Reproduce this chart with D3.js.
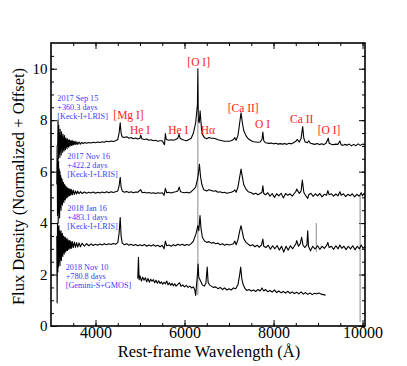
<!DOCTYPE html>
<html>
<head>
<meta charset="utf-8">
<script src="https://cdn.jsdelivr.net/npm/d3@7"></script>
<style>
  body { margin: 0; background: #fff; }
  text { font-family: "Liberation Serif", "Times New Roman", serif; }
</style>
</head>
<body>
<div id="spec_chart"></div>
<script>
// spectra: [rest wavelength (A), normalized flux + offset]
const sep15Spec = [
  [3150,7.0],[3158,8.0],[3166,6.5],[3174,7.8],[3182,6.7],[3190,7.5],[3198,6.55],[3206,7.65],[3214,6.8],[3222,7.4],
  [3230,6.65],[3238,7.55],[3246,6.9],[3254,7.35],[3262,6.75],[3270,7.45],[3278,6.85],[3286,7.3],[3294,6.8],[3302,7.4],
  [3310,6.92],[3318,7.28],[3326,6.85],[3334,7.32],[3342,6.95],[3350,7.25],[3360,6.9],[3370,7.28],[3380,6.98],[3390,7.22],
  [3400,6.95],[3415,7.24],[3430,7.0],[3445,7.2],[3460,7.02],[3475,7.22],[3490,7.03],[3505,7.18],[3520,7.05],[3540,7.19],
  [3560,7.05],[3580,7.16],[3600,7.06],[3630,7.15],[3660,7.07],[3690,7.14],[3720,7.09],[3760,7.13],[3800,7.1],[3850,7.13],
  [3900,7.11],[3950,7.14],[4000,7.12],[4050,7.15],[4100,7.13],[4150,7.16],[4200,7.14],[4250,7.18],[4300,7.16],[4350,7.19],
  [4400,7.17],[4450,7.2],[4500,7.25],[4530,7.5],[4555,7.9],[4575,7.5],[4600,7.35],[4650,7.33],[4700,7.36],[4750,7.3],
  [4800,7.33],[4850,7.28],[4900,7.31],[4950,7.27],[5000,7.3],[5015,7.42],[5040,7.28],[5100,7.25],[5150,7.27],[5200,7.22],
  [5250,7.24],[5300,7.2],[5350,7.22],[5400,7.18],[5450,7.2],[5500,7.2],[5530,7.1],[5550,7.05],[5570,7.48],[5590,7.25],
  [5650,7.22],[5700,7.24],[5750,7.22],[5800,7.25],[5850,7.3],[5876,7.45],[5900,7.3],[5950,7.25],[6000,7.22],[6050,7.2],
  [6100,7.25],[6150,7.3],[6200,7.5],[6250,7.9],[6290,8.6],[6300,10.0],[6310,8.0],[6330,7.9],[6350,8.36],[6380,7.7],
  [6400,7.45],[6450,7.32],[6500,7.28],[6550,7.33],[6600,7.3],[6650,7.3],[6700,7.28],[6750,7.24],[6800,7.22],[6850,7.2],
  [6900,7.18],[6950,7.18],[7000,7.18],[7050,7.2],[7100,7.25],[7130,7.32],[7160,7.22],[7200,7.4],[7240,7.9],[7270,8.29],
  [7300,7.9],[7330,7.6],[7380,7.4],[7430,7.28],[7500,7.2],[7550,7.16],[7600,7.15],[7650,7.14],[7700,7.15],[7740,7.25],
  [7760,7.54],[7780,7.2],[7820,7.12],[7900,7.1],[7950,7.11],[8000,7.08],[8050,7.1],[8100,7.07],[8150,7.09],[8200,7.07],
  [8250,7.09],[8300,7.06],[8350,7.1],[8400,7.08],[8450,7.12],[8500,7.18],[8535,7.25],[8580,7.15],[8620,7.3],[8655,7.75],
  [8680,7.3],[8710,7.15],[8760,7.12],[8790,7.2],[8830,7.1],[8880,7.08],[8930,7.06],[8980,7.09],[9030,7.05],[9080,7.08],
  [9130,7.05],[9180,7.1],[9230,7.3],[9250,7.1],[9300,7.06],[9350,7.05],[9400,7.07],[9450,7.06],[9490,7.19],[9520,7.05],
  [9560,7.02],[9600,7.06],[9650,7.03],[9700,7.07],[9750,7.0],[9800,7.06],[9850,7.01],[9900,7.08],[9950,7.02],[10000,7.07],
  [10055,7.05]
];

const nov16Spec = [
  [3130,5.5],[3138,7.0],[3146,4.3],[3154,6.5],[3162,4.0],[3170,6.4],[3178,4.4],[3186,6.1],[3194,4.2],[3202,6.0],
  [3210,4.6],[3218,5.85],[3226,4.5],[3234,5.75],[3242,4.75],[3250,5.7],[3258,4.7],[3266,5.6],[3274,4.85],[3282,5.58],
  [3290,4.8],[3298,5.5],[3306,4.92],[3314,5.48],[3322,4.9],[3330,5.42],[3340,5.0],[3350,5.4],[3360,4.98],[3370,5.36],
  [3385,5.04],[3400,5.35],[3415,5.06],[3430,5.32],[3445,5.08],[3460,5.3],[3480,5.1],[3500,5.28],[3525,5.11],[3550,5.25],
  [3575,5.13],[3600,5.24],[3630,5.14],[3660,5.22],[3700,5.15],[3750,5.21],[3800,5.16],[3850,5.2],[3900,5.17],[3950,5.21],
  [4000,5.16],[4050,5.2],[4100,5.17],[4150,5.21],[4200,5.18],[4250,5.22],[4300,5.18],[4350,5.22],[4400,5.19],[4450,5.22],
  [4500,5.25],[4530,5.45],[4555,5.78],[4575,5.4],[4600,5.25],[4650,5.2],[4700,5.23],[4750,5.19],[4800,5.22],[4850,5.18],
  [4900,5.21],[4950,5.2],[5015,5.3],[5050,5.18],[5100,5.2],[5150,5.17],[5200,5.19],[5250,5.16],[5300,5.18],[5350,5.15],
  [5400,5.18],[5450,5.16],[5500,5.18],[5540,5.08],[5570,5.35],[5600,5.18],[5650,5.2],[5700,5.17],[5750,5.2],[5800,5.22],
  [5850,5.25],[5880,5.4],[5910,5.22],[5950,5.2],[6000,5.18],[6050,5.2],[6100,5.17],[6150,5.22],[6200,5.3],[6250,5.4],
  [6290,5.7],[6310,5.9],[6335,6.29],[6360,5.8],[6390,5.5],[6430,5.3],[6500,5.25],[6550,5.3],[6600,5.27],[6650,5.24],
  [6700,5.26],[6750,5.2],[6800,5.22],[6850,5.18],[6900,5.2],[6950,5.16],[7000,5.18],[7050,5.2],[7100,5.24],[7130,5.29],
  [7160,5.2],[7200,5.4],[7240,5.8],[7270,6.1],[7300,5.8],[7330,5.5],[7380,5.32],[7430,5.22],[7500,5.18],[7550,5.12],
  [7600,5.16],[7650,5.1],[7700,5.15],[7740,5.2],[7760,5.45],[7780,5.15],[7820,5.1],[7870,5.18],[7920,5.05],[7970,5.15],
  [8020,5.0],[8070,5.14],[8120,5.06],[8170,5.16],[8220,4.98],[8270,5.15],[8320,5.08],[8370,5.14],[8420,5.05],[8470,5.16],
  [8500,5.22],[8520,5.32],[8580,5.15],[8620,5.25],[8647,5.67],[8680,5.2],[8710,5.1],[8768,4.96],[8790,5.1],[8840,5.16],
  [8890,5.04],[8940,5.14],[8990,5.06],[9040,5.15],[9090,5.02],[9140,5.12],[9190,5.08],[9220,5.26],[9250,5.1],[9300,5.14],
  [9350,5.05],[9400,5.13],[9450,5.06],[9490,5.22],[9520,5.08],[9570,5.14],[9620,5.03],[9670,5.12],[9720,5.06],[9770,5.14],
  [9820,5.02],[9870,5.12],[9920,5.05],[9945,5.1],[9970,5.18],[10000,5.06],[10030,5.15],[10055,5.1]
];

const jan16Spec = [
  [3130,3.5],[3138,0.9],[3146,4.0],[3154,2.1],[3162,3.85],[3170,2.3],[3178,3.9],[3186,2.5],[3194,3.7],[3202,2.35],
  [3210,3.65],[3218,2.6],[3226,3.7],[3234,2.55],[3242,3.55],[3250,2.75],[3258,3.6],[3266,2.7],[3274,3.5],[3282,2.85],
  [3290,3.48],[3298,2.8],[3306,3.42],[3314,2.9],[3322,3.45],[3330,2.88],[3340,3.38],[3350,2.95],[3360,3.4],[3370,2.94],
  [3385,3.34],[3400,2.98],[3415,3.32],[3430,3.0],[3445,3.3],[3460,3.02],[3480,3.28],[3500,3.04],[3525,3.26],[3550,3.06],
  [3575,3.24],[3600,3.07],[3630,3.23],[3660,3.08],[3700,3.22],[3750,3.1],[3800,3.2],[3850,3.12],[3900,3.19],[3950,3.13],
  [4000,3.18],[4050,3.14],[4100,3.19],[4150,3.15],[4200,3.2],[4250,3.16],[4300,3.2],[4350,3.17],[4400,3.21],[4450,3.18],
  [4500,3.24],[4530,3.6],[4555,4.22],[4575,3.5],[4600,3.22],[4650,3.16],[4700,3.2],[4750,3.14],[4800,3.18],[4850,3.13],
  [4900,3.17],[4950,3.12],[5000,3.16],[5050,3.12],[5100,3.17],[5150,3.1],[5200,3.15],[5250,3.11],[5300,3.16],[5350,3.1],
  [5400,3.14],[5450,3.08],[5500,3.14],[5540,3.0],[5570,3.3],[5600,3.12],[5650,3.15],[5700,3.1],[5750,3.16],[5800,3.12],
  [5850,3.18],[5900,3.14],[5950,3.18],[6000,3.13],[6050,3.17],[6100,3.14],[6150,3.2],[6200,3.3],[6260,3.6],[6300,3.9],
  [6320,3.7],[6348,4.29],[6370,3.8],[6400,3.45],[6450,3.3],[6500,3.25],[6550,3.28],[6600,3.22],[6650,3.25],[6700,3.2],
  [6750,3.22],[6800,3.16],[6850,3.2],[6900,3.14],[6950,3.18],[7000,3.15],[7050,3.17],[7100,3.2],[7130,3.3],[7160,3.16],
  [7200,3.35],[7240,3.7],[7270,3.9],[7300,3.65],[7330,3.4],[7380,3.25],[7430,3.18],[7480,3.12],[7530,3.16],[7580,3.08],
  [7630,3.14],[7680,3.06],[7730,3.15],[7760,3.38],[7780,3.1],[7830,3.05],[7880,3.14],[7930,2.98],[7980,3.12],[8030,3.0],
  [8080,3.13],[8130,2.95],[8180,3.1],[8230,2.87],[8280,3.1],[8330,2.95],[8380,3.12],[8430,3.0],[8480,3.14],[8500,3.18],
  [8521,3.32],[8560,3.1],[8600,3.2],[8633,3.45],[8660,3.15],[8700,3.05],[8750,3.15],[8768,3.7],[8785,3.1],[8830,2.92],
  [8880,3.1],[8930,3.0],[8960,3.05],[8990,3.12],[9040,2.98],[9090,3.1],[9140,3.02],[9190,3.12],[9220,3.25],[9250,3.05],
  [9300,3.1],[9350,2.98],[9400,3.12],[9450,3.0],[9490,3.15],[9530,3.02],[9580,3.1],[9630,2.97],[9680,3.1],[9730,3.0],
  [9780,3.12],[9830,2.96],[9880,3.1],[9930,3.0],[9970,3.15],[10010,3.02],[10055,3.08]
];

const nov10Spec = [
  [4950,1.85],[4965,2.67],[4980,1.8],[5000,1.95],[5030,1.75],[5060,1.9],[5090,1.78],[5120,1.88],[5150,1.72],[5180,1.85],
  [5210,1.7],[5240,1.82],[5270,1.74],[5300,1.8],[5330,1.68],[5360,1.78],[5390,1.66],[5420,1.76],[5450,1.65],[5480,1.72],
  [5510,1.62],[5540,1.7],[5570,1.64],[5600,1.75],[5630,1.6],[5660,1.68],[5690,1.58],[5720,1.66],[5750,1.56],[5780,1.64],
  [5810,1.55],[5850,1.62],[5890,1.68],[5920,1.54],[5960,1.6],[6000,1.52],[6040,1.58],[6080,1.5],[6120,1.55],[6160,1.48],
  [6200,1.52],[6230,1.4],[6250,1.19],[6270,1.6],[6290,2.0],[6305,2.41],[6320,1.9],[6360,1.75],[6400,1.6],[6440,1.55],
  [6480,1.65],[6510,2.29],[6530,1.7],[6560,1.6],[6600,1.55],[6650,1.5],[6700,1.52],[6750,1.45],[6800,1.5],[6850,1.42],
  [6900,1.48],[6950,1.4],[7000,1.45],[7050,1.4],[7100,1.48],[7150,1.45],[7200,1.6],[7240,2.0],[7262,2.29],[7290,1.8],
  [7320,1.6],[7360,1.45],[7400,1.38],[7450,1.42],[7500,1.36],[7550,1.4],[7600,1.34],[7650,1.42],[7700,1.36],[7740,1.48],
  [7780,1.36],[7820,1.42],[7870,1.33],[7920,1.38],[7970,1.32],[8020,1.4],[8070,1.3],[8120,1.36],[8170,1.29],[8220,1.34],
  [8270,1.28],[8320,1.35],[8370,1.27],[8420,1.32],[8470,1.26],[8520,1.31],[8570,1.25],[8620,1.33],[8670,1.24],[8720,1.3],
  [8770,1.23],[8820,1.28],[8870,1.22],[8920,1.27],[8970,1.25],[9020,1.28],[9070,1.24],[9120,1.22],[9170,1.2]
];

// sky residual spikes drawn in grey
const spikeWave = [6300, 8960, 9945];
const spikeTop = [8.0, 4.0, 5.1];
const spikeBottom = [1.2, 2.88, 0.15];

// epoch labels
const epochDates = ["2017 Sep 15", "2017 Nov 16", "2018 Jan 16", "2018 Nov 10"];
const epochPhases = ["+360.3 days", "+422.2 days", "+483.1 days", "+780.8 days"];
const epochInstruments = ["[Keck-I+LRIS]", "[Keck-I+LRIS]", "[Keck-I+LRIS]", "[Gemini-S+GMOS]"];
const epochLabelWave = [3142, 3366, 3366, 3330];
const epochLabelFlux = [8.76, 6.5, 4.46, 2.19];

// line identifications
const lineNames = ["[Mg I]", "He I", "He I", "[O I]", "H\u03b1", "[Ca II]", "O I", "Ca II", "[O I]"];
const lineLabelWave = [4400, 4775, 5636, 6063, 6364, 6971, 7584, 8370, 8993];
const lineLabelFlux = [8.05, 7.46, 7.46, 10.1, 7.46, 8.33, 7.68, 7.88, 7.45];

const xMajor = [4000, 6000, 8000, 10000];
const yMajor = [0, 2, 4, 6, 8, 10];

// set the dimensions and margins of the graph
const margin = {top: 43, right: 42, bottom: 40, left: 51},
    width = 407 - margin.left - margin.right,
    height = 366 - margin.top - margin.bottom;

const svg = d3.select("#spec_chart")
  .append("svg")
    .attr("width", 407)
    .attr("height", 366)
  .append("g")
    .attr("transform", `translate(${margin.left}, ${margin.top})`);

const x = d3.scaleLinear().domain([3000, 10055]).range([0, width]);
const y = d3.scaleLinear().domain([0, 11]).range([height, 0]);

svg.append("clipPath").attr("id", "plotclip")
  .append("rect").attr("width", width).attr("height", height);

// ticks, all pointing inward
function styleAxis(g) {
  g.select(".domain").remove();
  g.selectAll(".tick line").attr("stroke", "#000").attr("stroke-width", 1);
  g.selectAll(".tick text").attr("fill", "#000");
}
svg.append("g").attr("transform", `translate(0, ${height})`)
  .call(d3.axisBottom(x).tickValues(xMajor).tickSize(-6).tickPadding(1).tickFormat(d3.format("d")))
  .call(styleAxis)
  .selectAll("text").style("font-size", "16px").style("font-family", "Liberation Serif");
svg.append("g").attr("transform", `translate(0, ${height})`)
  .call(d3.axisBottom(x).tickValues(d3.range(3500, 10001, 500)).tickSize(-3).tickFormat(""))
  .call(styleAxis);
svg.append("g")
  .call(d3.axisTop(x).tickValues(xMajor).tickSize(-6).tickFormat(""))
  .call(styleAxis);
svg.append("g")
  .call(d3.axisTop(x).tickValues(d3.range(3500, 10001, 500)).tickSize(-3).tickFormat(""))
  .call(styleAxis);

svg.append("g")
  .call(d3.axisLeft(y).tickValues(yMajor).tickSize(-6).tickPadding(3.5))
  .call(styleAxis)
  .selectAll("text").style("font-size", "15px").style("font-family", "Liberation Serif");
svg.append("g")
  .call(d3.axisLeft(y).tickValues(d3.range(0.5, 11, 0.5)).tickSize(-3).tickFormat(""))
  .call(styleAxis);
svg.append("g").attr("transform", `translate(${width}, 0)`)
  .call(d3.axisRight(y).tickValues(yMajor).tickSize(-6).tickFormat(""))
  .call(styleAxis);
svg.append("g").attr("transform", `translate(${width}, 0)`)
  .call(d3.axisRight(y).tickValues(d3.range(0.5, 11, 0.5)).tickSize(-3).tickFormat(""))
  .call(styleAxis);

// grey spikes
const plot = svg.append("g").attr("clip-path", "url(#plotclip)");
plot.selectAll(".spike")
  .data(spikeWave)
  .enter()
  .append("line")
    .attr("x1", d => x(d)).attr("x2", d => x(d))
    .attr("y1", (d, i) => y(spikeTop[i]))
    .attr("y2", (d, i) => y(spikeBottom[i]))
    .attr("stroke", "#8a8a8a")
    .attr("stroke-width", 1);

// spectra
const line = d3.line().x(d => x(d[0])).y(d => y(d[1]));
plot.selectAll(".spec")
  .data([sep15Spec, nov16Spec, jan16Spec, nov10Spec])
  .enter()
  .append("path")
    .attr("d", line)
    .attr("fill", "none")
    .attr("stroke", "#000")
    .attr("stroke-width", 1.1)
    .attr("stroke-linejoin", "round");

// frame
svg.append("rect")
  .attr("width", width).attr("height", height)
  .attr("fill", "none").attr("stroke", "#000").attr("stroke-width", 1.6);

// epoch labels, one text per line
epochDates.forEach(function(d, i) {
  [d, epochPhases[i], epochInstruments[i]].forEach(function(s, j) {
    svg.append("text")
      .attr("x", x(epochLabelWave[i]))
      .attr("y", y(epochLabelFlux[i]) + j * 9)
      .attr("fill", "#3b3bff")
      .style("font-size", "8.2px")
      .text(s);
  });
});

// line IDs
svg.selectAll(".lineid")
  .data(lineNames)
  .enter()
  .append("text")
    .attr("x", (d, i) => x(lineLabelWave[i]))
    .attr("y", (d, i) => y(lineLabelFlux[i]))
    .attr("fill", "#ff1a1a")
    .style("font-size", "11.5px")
    .text(d => d);

// axis titles
svg.append("text")
  .attr("x", width / 2 + 1)
  .attr("y", height + 31)
  .attr("text-anchor", "middle")
  .style("font-size", "16.5px")
  .text("Rest-frame Wavelength (\u00c5)");
svg.append("text")
  .attr("transform", `translate(${-27.5}, ${height / 2 + 2}) rotate(-90)`)
  .attr("text-anchor", "middle")
  .style("font-size", "16.5px")
  .text("Flux Density (Normalized + Offset)");
</script>
</body>
</html>
